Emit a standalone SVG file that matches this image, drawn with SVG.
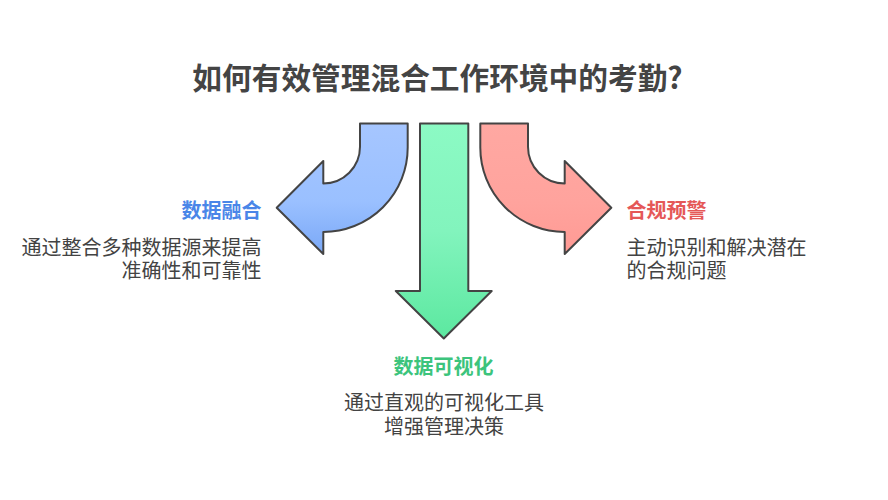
<svg xmlns="http://www.w3.org/2000/svg" width="888" height="500" viewBox="0 0 888 500">
<style>
text { font-family: "Noto Sans CJK SC", "Noto Sans", sans-serif; }
.title { font-size: 29.7px; font-weight: bold; fill: #444444; }
.label { font-size: 20px; font-weight: bold; }
.desc { font-size: 20px; fill: #434343; }
.arrow { stroke: #444444; stroke-width: 2; stroke-linejoin: round; }
</style>
<defs>
<linearGradient id="gBlue" x1="0" y1="0" x2="0" y2="1">
<stop offset="0" stop-color="#a6c6ff"/>
<stop offset="0.6" stop-color="#9ac0ff"/>
<stop offset="1" stop-color="#7aa8f7"/>
</linearGradient>
<linearGradient id="gGreen" x1="0" y1="0" x2="0" y2="1">
<stop offset="0" stop-color="#8cfac4"/>
<stop offset="0.5" stop-color="#82f4bd"/>
<stop offset="1" stop-color="#5ce8a0"/>
</linearGradient>
<linearGradient id="gRed" x1="0" y1="0" x2="0" y2="1">
<stop offset="0" stop-color="#ffa8a2"/>
<stop offset="0.6" stop-color="#ffa39d"/>
<stop offset="1" stop-color="#ff9a94"/>
</linearGradient>
</defs>
<rect width="888" height="500" fill="#ffffff"/>
<text class="title" x="437.5" y="89" text-anchor="middle">如何有效管理混合工作环境中的考勤?</text>
<g id="connectors">
<path id="arrow-blue" class="arrow" fill="url(#gBlue)" d="M360,123.5 L407.7,123.5 L407.7,147.5 A84.4,84.4 0 0 1 323.3,231.9 L323.3,254 L276.7,207.7 L323.3,161 L323.3,183.5 A36.7,36.7 0 0 0 360,146.8 Z"/>
<path id="arrow-green" class="arrow" fill="url(#gGreen)" d="M420,123.5 L468.3,123.5 L468.3,291 L491.7,291 L443.8,338.5 L395.8,291 L420,291 Z"/>
<path id="arrow-red" class="arrow" fill="url(#gRed)" d="M528,123.5 L480.3,123.5 L480.3,147.5 A84.4,84.4 0 0 0 564.7,231.9 L564.7,254 L611.3,207.7 L564.7,161 L564.7,183.5 A36.7,36.7 0 0 1 528,146.8 Z"/>
</g>
<g id="node-data-fusion">
<text class="label" x="261.5" y="218" text-anchor="end" fill="#4a86e8">数据融合</text>
<text class="desc" x="261.5" y="254.5" text-anchor="end">通过整合多种数据源来提高</text>
<text class="desc" x="261.5" y="277.5" text-anchor="end">准确性和可靠性</text>
</g>
<g id="node-compliance">
<text class="label" x="626.5" y="218" fill="#e55858">合规预警</text>
<text class="desc" x="626.5" y="254.5">主动识别和解决潜在</text>
<text class="desc" x="626.5" y="277.5">的合规问题</text>
</g>
<g id="node-visualization">
<text class="label" x="443.5" y="374" text-anchor="middle" fill="#3cc47c">数据可视化</text>
<text class="desc" x="444" y="410" text-anchor="middle">通过直观的可视化工具</text>
<text class="desc" x="444" y="433.5" text-anchor="middle">增强管理决策</text>
</g>
</svg>
